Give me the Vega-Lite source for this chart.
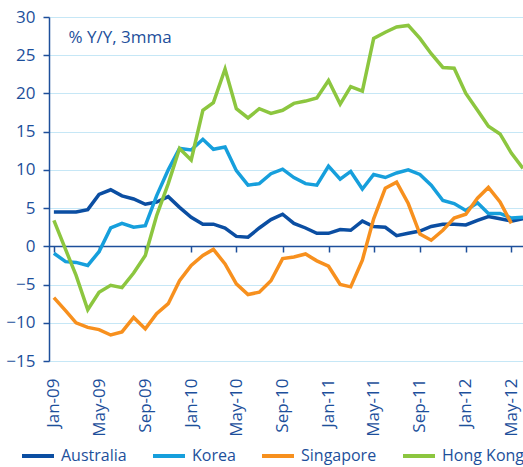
{
  "$schema": "https://vega.github.io/schema/vega-lite/v6.json",
  "width": 474,
  "height": 344,
  "autosize": {"type": "none"},
  "padding": {"left": 49, "top": 17, "right": 0, "bottom": 106},
  "background": "white",
  "config": {"view": {"stroke": null}, "font": "Open Sans"},
  "data": {"values": [
    {"m":"2009-01-01","c":"Australia","v":4.5},{"m":"2009-02-01","c":"Australia","v":4.5},{"m":"2009-03-01","c":"Australia","v":4.5},{"m":"2009-04-01","c":"Australia","v":4.8},{"m":"2009-05-01","c":"Australia","v":6.8},{"m":"2009-06-01","c":"Australia","v":7.4},{"m":"2009-07-01","c":"Australia","v":6.6},{"m":"2009-08-01","c":"Australia","v":6.2},{"m":"2009-09-01","c":"Australia","v":5.5},{"m":"2009-10-01","c":"Australia","v":5.8},{"m":"2009-11-01","c":"Australia","v":6.5},{"m":"2009-12-01","c":"Australia","v":5.1},
    {"m":"2010-01-01","c":"Australia","v":3.8},{"m":"2010-02-01","c":"Australia","v":2.9},{"m":"2010-03-01","c":"Australia","v":2.9},{"m":"2010-04-01","c":"Australia","v":2.4},{"m":"2010-05-01","c":"Australia","v":1.3},{"m":"2010-06-01","c":"Australia","v":1.2},{"m":"2010-07-01","c":"Australia","v":2.4},{"m":"2010-08-01","c":"Australia","v":3.5},{"m":"2010-09-01","c":"Australia","v":4.2},{"m":"2010-10-01","c":"Australia","v":3.0},{"m":"2010-11-01","c":"Australia","v":2.4},{"m":"2010-12-01","c":"Australia","v":1.7},
    {"m":"2011-01-01","c":"Australia","v":1.7},{"m":"2011-02-01","c":"Australia","v":2.2},{"m":"2011-03-01","c":"Australia","v":2.1},{"m":"2011-04-01","c":"Australia","v":3.3},{"m":"2011-05-01","c":"Australia","v":2.6},{"m":"2011-06-01","c":"Australia","v":2.5},{"m":"2011-07-01","c":"Australia","v":1.4},{"m":"2011-08-01","c":"Australia","v":1.7},{"m":"2011-09-01","c":"Australia","v":2.0},{"m":"2011-10-01","c":"Australia","v":2.6},{"m":"2011-11-01","c":"Australia","v":2.9},{"m":"2011-12-01","c":"Australia","v":2.9},
    {"m":"2012-01-01","c":"Australia","v":2.8},{"m":"2012-02-01","c":"Australia","v":3.4},{"m":"2012-03-01","c":"Australia","v":3.9},{"m":"2012-04-01","c":"Australia","v":3.6},{"m":"2012-05-01","c":"Australia","v":3.3},{"m":"2012-06-01","c":"Australia","v":3.6},

    {"m":"2009-01-01","c":"Korea","v":-0.9},{"m":"2009-02-01","c":"Korea","v":-2.0},{"m":"2009-03-01","c":"Korea","v":-2.1},{"m":"2009-04-01","c":"Korea","v":-2.5},{"m":"2009-05-01","c":"Korea","v":-0.7},{"m":"2009-06-01","c":"Korea","v":2.4},{"m":"2009-07-01","c":"Korea","v":3.0},{"m":"2009-08-01","c":"Korea","v":2.5},{"m":"2009-09-01","c":"Korea","v":2.7},{"m":"2009-10-01","c":"Korea","v":6.6},{"m":"2009-11-01","c":"Korea","v":10.0},{"m":"2009-12-01","c":"Korea","v":12.8},
    {"m":"2010-01-01","c":"Korea","v":12.6},{"m":"2010-02-01","c":"Korea","v":14.0},{"m":"2010-03-01","c":"Korea","v":12.7},{"m":"2010-04-01","c":"Korea","v":13.0},{"m":"2010-05-01","c":"Korea","v":9.9},{"m":"2010-06-01","c":"Korea","v":8.0},{"m":"2010-07-01","c":"Korea","v":8.2},{"m":"2010-08-01","c":"Korea","v":9.5},{"m":"2010-09-01","c":"Korea","v":10.1},{"m":"2010-10-01","c":"Korea","v":9.0},{"m":"2010-11-01","c":"Korea","v":8.2},{"m":"2010-12-01","c":"Korea","v":8.0},
    {"m":"2011-01-01","c":"Korea","v":10.5},{"m":"2011-02-01","c":"Korea","v":8.8},{"m":"2011-03-01","c":"Korea","v":9.8},{"m":"2011-04-01","c":"Korea","v":7.5},{"m":"2011-05-01","c":"Korea","v":9.4},{"m":"2011-06-01","c":"Korea","v":9.0},{"m":"2011-07-01","c":"Korea","v":9.6},{"m":"2011-08-01","c":"Korea","v":10.0},{"m":"2011-09-01","c":"Korea","v":9.4},{"m":"2011-10-01","c":"Korea","v":8.0},{"m":"2011-11-01","c":"Korea","v":6.0},{"m":"2011-12-01","c":"Korea","v":5.6},
    {"m":"2012-01-01","c":"Korea","v":4.7},{"m":"2012-02-01","c":"Korea","v":5.7},{"m":"2012-03-01","c":"Korea","v":4.3},{"m":"2012-04-01","c":"Korea","v":4.3},{"m":"2012-05-01","c":"Korea","v":3.7},{"m":"2012-06-01","c":"Korea","v":3.8},

    {"m":"2009-01-01","c":"Singapore","v":-6.7},{"m":"2009-02-01","c":"Singapore","v":-8.4},{"m":"2009-03-01","c":"Singapore","v":-10.0},{"m":"2009-04-01","c":"Singapore","v":-10.6},{"m":"2009-05-01","c":"Singapore","v":-10.9},{"m":"2009-06-01","c":"Singapore","v":-11.6},{"m":"2009-07-01","c":"Singapore","v":-11.2},{"m":"2009-08-01","c":"Singapore","v":-9.3},{"m":"2009-09-01","c":"Singapore","v":-10.8},{"m":"2009-10-01","c":"Singapore","v":-8.8},{"m":"2009-11-01","c":"Singapore","v":-7.5},{"m":"2009-12-01","c":"Singapore","v":-4.5},
    {"m":"2010-01-01","c":"Singapore","v":-2.5},{"m":"2010-02-01","c":"Singapore","v":-1.2},{"m":"2010-03-01","c":"Singapore","v":-0.4},{"m":"2010-04-01","c":"Singapore","v":-2.3},{"m":"2010-05-01","c":"Singapore","v":-4.9},{"m":"2010-06-01","c":"Singapore","v":-6.3},{"m":"2010-07-01","c":"Singapore","v":-6.0},{"m":"2010-08-01","c":"Singapore","v":-4.5},{"m":"2010-09-01","c":"Singapore","v":-1.6},{"m":"2010-10-01","c":"Singapore","v":-1.4},{"m":"2010-11-01","c":"Singapore","v":-1.0},{"m":"2010-12-01","c":"Singapore","v":-1.9},
    {"m":"2011-01-01","c":"Singapore","v":-2.6},{"m":"2011-02-01","c":"Singapore","v":-5.0},{"m":"2011-03-01","c":"Singapore","v":-5.3},{"m":"2011-04-01","c":"Singapore","v":-1.8},{"m":"2011-05-01","c":"Singapore","v":3.6},{"m":"2011-06-01","c":"Singapore","v":7.6},{"m":"2011-07-01","c":"Singapore","v":8.4},{"m":"2011-08-01","c":"Singapore","v":5.6},{"m":"2011-09-01","c":"Singapore","v":1.6},{"m":"2011-10-01","c":"Singapore","v":0.8},{"m":"2011-11-01","c":"Singapore","v":2.1},{"m":"2011-12-01","c":"Singapore","v":3.7},
    {"m":"2012-01-01","c":"Singapore","v":4.2},{"m":"2012-02-01","c":"Singapore","v":6.3},{"m":"2012-03-01","c":"Singapore","v":7.7},{"m":"2012-04-01","c":"Singapore","v":5.8},{"m":"2012-05-01","c":"Singapore","v":3.0},

    {"m":"2009-01-01","c":"Hong Kong","v":3.4},{"m":"2009-02-01","c":"Hong Kong","v":-0.4},{"m":"2009-03-01","c":"Hong Kong","v":-3.8},{"m":"2009-04-01","c":"Hong Kong","v":-8.3},{"m":"2009-05-01","c":"Hong Kong","v":-6.0},{"m":"2009-06-01","c":"Hong Kong","v":-5.1},{"m":"2009-07-01","c":"Hong Kong","v":-5.4},{"m":"2009-08-01","c":"Hong Kong","v":-3.5},{"m":"2009-09-01","c":"Hong Kong","v":-1.2},{"m":"2009-10-01","c":"Hong Kong","v":4.0},{"m":"2009-11-01","c":"Hong Kong","v":8.2},{"m":"2009-12-01","c":"Hong Kong","v":12.8},
    {"m":"2010-01-01","c":"Hong Kong","v":11.3},{"m":"2010-02-01","c":"Hong Kong","v":17.8},{"m":"2010-03-01","c":"Hong Kong","v":18.8},{"m":"2010-04-01","c":"Hong Kong","v":23.2},{"m":"2010-05-01","c":"Hong Kong","v":18.0},{"m":"2010-06-01","c":"Hong Kong","v":16.8},{"m":"2010-07-01","c":"Hong Kong","v":18.0},{"m":"2010-08-01","c":"Hong Kong","v":17.4},{"m":"2010-09-01","c":"Hong Kong","v":17.8},{"m":"2010-10-01","c":"Hong Kong","v":18.7},{"m":"2010-11-01","c":"Hong Kong","v":19.0},{"m":"2010-12-01","c":"Hong Kong","v":19.4},
    {"m":"2011-01-01","c":"Hong Kong","v":21.7},{"m":"2011-02-01","c":"Hong Kong","v":18.6},{"m":"2011-03-01","c":"Hong Kong","v":20.9},{"m":"2011-04-01","c":"Hong Kong","v":20.3},{"m":"2011-05-01","c":"Hong Kong","v":27.2},{"m":"2011-06-01","c":"Hong Kong","v":28.0},{"m":"2011-07-01","c":"Hong Kong","v":28.7},{"m":"2011-08-01","c":"Hong Kong","v":28.9},{"m":"2011-09-01","c":"Hong Kong","v":27.2},{"m":"2011-10-01","c":"Hong Kong","v":25.2},{"m":"2011-11-01","c":"Hong Kong","v":23.4},{"m":"2011-12-01","c":"Hong Kong","v":23.3},
    {"m":"2012-01-01","c":"Hong Kong","v":20.0},{"m":"2012-02-01","c":"Hong Kong","v":17.8},{"m":"2012-03-01","c":"Hong Kong","v":15.7},{"m":"2012-04-01","c":"Hong Kong","v":14.7},{"m":"2012-05-01","c":"Hong Kong","v":12.2},{"m":"2012-06-01","c":"Hong Kong","v":10.2}
  ]},
  "mark": {"type": "line", "strokeWidth": 3.5, "strokeJoin": "miter"},
  "encoding": {
    "x": {
      "field": "m", "type": "temporal",
      "scale": {"type": "utc", "domain": [{"year": 2008, "month": 12, "date": 19, "utc": true}, {"year": 2012, "month": 6, "date": 1, "utc": true}]},
      "axis": {
        "title": null,
        "values": [
          {"year": 2009, "month": 1, "date": 1, "utc": true},
          {"year": 2009, "month": 5, "date": 1, "utc": true},
          {"year": 2009, "month": 9, "date": 1, "utc": true},
          {"year": 2010, "month": 1, "date": 1, "utc": true},
          {"year": 2010, "month": 5, "date": 1, "utc": true},
          {"year": 2010, "month": 9, "date": 1, "utc": true},
          {"year": 2011, "month": 1, "date": 1, "utc": true},
          {"year": 2011, "month": 5, "date": 1, "utc": true},
          {"year": 2011, "month": 9, "date": 1, "utc": true},
          {"year": 2012, "month": 1, "date": 1, "utc": true},
          {"year": 2012, "month": 5, "date": 1, "utc": true}
        ],
        "labelExpr": "utcFormat(datum.value, '%b-%y')",
        "offset": -115,
        "grid": false,
        "domainColor": "#1d4f9b", "domainWidth": 1.5,
        "ticks": true, "tickColor": "#1d4f9b", "tickSize": 6, "tickWidth": 1.5,
        "labelAngle": -90, "labelPadding": 126, "labelFontSize": 17, "labelColor": "#1d4f9b",
        "labelFlush": false, "labelOverlap": false
      }
    },
    "y": {
      "field": "v", "type": "quantitative",
      "scale": {"domain": [-15, 30], "nice": false, "zero": false},
      "axis": {
        "values": [-15, -10, -5, 0, 5, 10, 15, 20, 25, 30],
        "title": "% Y/Y, 3mma", "titleAngle": 0, "titleX": 19, "titleY": 25,
        "titleAlign": "left", "titleBaseline": "alphabetic",
        "titleFontSize": 17, "titleFontWeight": "normal", "titleColor": "#1d4f9b",
        "domainColor": "#1d4f9b", "domainWidth": 1.5,
        "tickColor": "#1d4f9b", "tickSize": 6, "tickWidth": 1.5,
        "labelPadding": 8, "labelFontSize": 17, "labelColor": "#1d4f9b", "labelFlush": false,
        "grid": true, "gridColor": "#c6e7f6", "gridWidth": 1.2
      }
    },
    "color": {
      "field": "c", "type": "nominal",
      "scale": {"domain": ["Australia", "Korea", "Singapore", "Hong Kong"], "range": ["#0b4ea2", "#169fdc", "#f7901e", "#8cc63f"]},
      "legend": {
        "title": null, "orient": "none", "legendX": -29, "legendY": 421, "direction": "horizontal",
        "gridAlign": "none",
        "symbolType": "stroke", "symbolSize": 1024, "symbolStrokeWidth": 4,
        "labelFontSize": 16, "labelColor": "#1d4f9b", "labelOffset": 5, "columnPadding": 18, "padding": 0
      }
    }
  }
}
